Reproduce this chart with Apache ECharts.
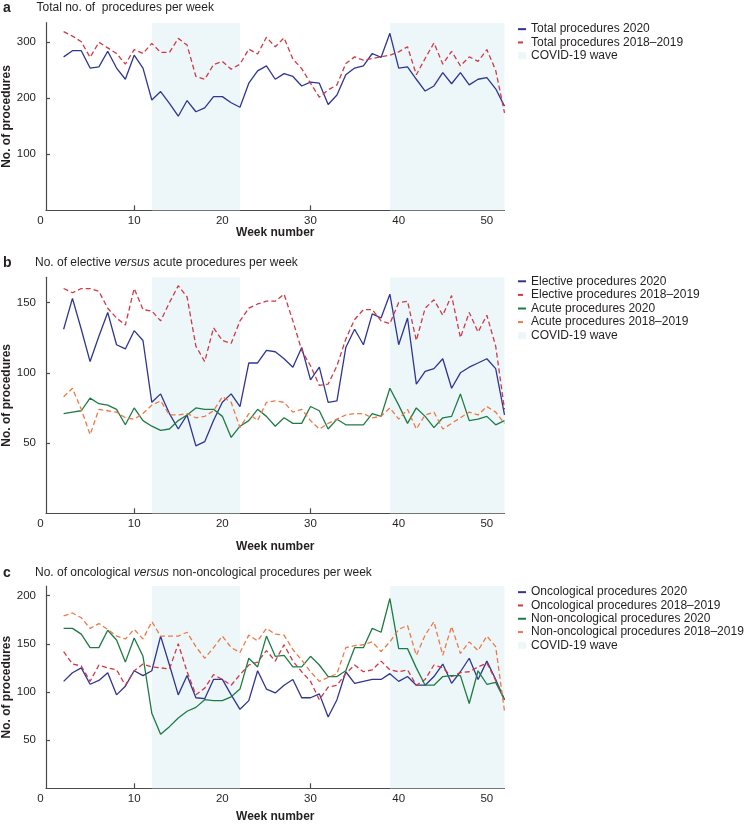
<!DOCTYPE html>
<html>
<head>
<meta charset="utf-8">
<script src="https://cdn.jsdelivr.net/npm/echarts@6/dist/echarts.min.js"></script>
<style>html,body{margin:0;padding:0;background:#fff}#c{width:745px;height:825px}</style>
</head>
<body>
<div id="c"></div>
<script>
// ---------- data ----------
const weeks = [2,3,4,5,6,7,8,9,10,11,12,13,14,15,16,17,18,19,20,21,22,23,24,25,26,27,28,29,30,31,32,33,34,35,36,37,38,39,40,41,42,43,44,45,46,47,48,49,50,51,52];

const total2020 = [274,285,285,254,256,284,254,234,277,254, 197,212,191,168,196,176,183,203,203,192, 184,227,249,258,234,244,239,222,229,227, 189,206,242,254,258,280,273,316,254,256, 234,213,222,246,226,246,224,234,237,217, 186];
const total1819 = [319,311,301,273,300,290,280,261,287,280, 298,282,282,307,295,239,234,260,266,252, 261,288,279,309,292,308,270,253,227,202, 215,224,262,274,268,271,274,277,283,292, 242,271,299,261,284,258,274,266,287,250, 174];

const elective2020 = [131,153,131,108,126,143,120,117,130,123, 79,85,71,60,70,48,51,66,79,85, 76,107,107,116,115,110,104,118,95,104, 79,80,118,131,120,142,139,156,120,139, 92,101,103,110,89,100,104,107,110,103, 70];
const elective1819 = [160,157,160,160,158,146,139,134,160,145, 144,137,150,162,154,119,108,132,123,121, 137,146,149,151,151,156,137,116,105,91, 92,105,124,138,145,145,137,135,150,151, 123,146,152,141,155,125,143,129,141,119, 74];
const acute2020 = [71,72,73,82,78,77,74,63,75,66, 62,59,60,66,70,75,74,74,69,54, 62,66,74,69,62,68,64,64,76,73, 60,67,63,63,63,71,69,89,77,64, 75,69,61,68,69,85,66,67,69,63, 66];
const acute1819 = [83,89,74,56,74,73,72,68,67,71, 77,80,70,70,71,68,69,73,83,79, 61,71,66,79,80,79,72,74,66,60, 64,67,70,71,71,68,69,75,67,74, 60,70,72,60,64,68,72,70,76,72, 64];

const onc2020 = [111,120,125,108,112,120,97,106,122,117, 122,158,128,97,117,94,93,113,113,97, 82,91,122,103,99,107,113,94,94,98, 74,92,121,109,111,113,113,119,111,116, 107,107,116,129,109,121,135,113,132,113, 92];
const onc1819 = [142,129,127,111,128,125,123,107,122,129, 126,125,124,150,121,97,104,118,113,107, 118,128,131,143,132,149,132,121,111,92, 105,107,119,128,121,123,132,123,121,123, 107,113,128,125,116,120,121,126,130,112, 92];
const nonOnc2020 = [166,166,160,146,146,164,154,131,156,137, 78,56,64,73,80,84,92,91,91,95, 103,135,126,158,137,138,126,126,137,128, 116,116,122,146,146,166,162,197,145,145, 125,107,107,116,117,117,88,122,108,110, 92];
const nonOnc1819 = [179,182,177,166,171,165,158,155,165,155, 173,158,158,158,162,147,135,146,158,146, 141,159,153,166,160,159,144,133,121,111, 115,119,146,148,149,152,142,152,165,169, 138,159,173,138,168,140,152,143,158,147, 80];

const covidWaves = [[12, 22], [39, 52]];

const xTickLabels = [0, 10, 20, 30, 40, 50];
const xTicks = [10, 20, 30, 40, 50];
const yTicksA = [100, 200, 300];
const yTicksB = [50, 100, 150];
const yTicksC = [50, 100, 150, 200];

const panelTitles = [
  'Total no. of  procedures per week',
  'No. of elective {i|versus} acute procedures per week',
  'No. of oncological {i|versus} non-oncological procedures per week'
];
const panelLetters = ['a', 'b', 'c'];

// ---------- styling ----------
const FONT = "'Liberation Sans', Arial, Helvetica, sans-serif";
const TXT = '#231f20';
const C_BLUE = '#2f3590';
const C_RED = '#d03a45';
const C_GREEN = '#1e7b45';
const C_ORANGE = '#ec7a48';
const C_WAVE = '#edf7f9';
const AX = '#4a4a4a';

function pairs(vals) { return weeks.map((w, i) => [w, vals[i]]); }

function lineSeries(name, vals, color, dashed, idx) {
  return {
    type: 'line', name, xAxisIndex: idx, yAxisIndex: idx,
    data: pairs(vals), symbol: 'none', z: 5,
    lineStyle: { color, width: 1.3, type: dashed ? [5, 3] : 'solid' },
    itemStyle: { color }
  };
}
function waveSeries(idx) {
  return {
    type: 'line', name: 'COVID-19 wave', xAxisIndex: idx, yAxisIndex: idx, data: [],
    symbol: 'none', silent: true, z: 1,
    itemStyle: { color: C_WAVE },
    markArea: {
      silent: true,
      itemStyle: { color: C_WAVE },
      data: covidWaves.map(w => [{ xAxis: w[0] }, { xAxis: w[1] }])
    }
  };
}

const grids = [
  { left: 46, width: 458.5, top: 22.7, height: 187.6, outerBoundsMode: 'none', containLabel: false },
  { left: 46, width: 458.5, top: 277.3, height: 236, outerBoundsMode: 'none', containLabel: false },
  { left: 46, width: 458.5, top: 586, height: 202.3, outerBoundsMode: 'none', containLabel: false }
];
const yMax = [335, 168, 210];
const yTicks = [yTicksA, yTicksB, yTicksC];
const xNameGap = [16, 27, 22];

const xAxes = grids.map((g, i) => ({
  type: 'value', gridIndex: i, min: 0, max: 52,
  axisLine: { show: true, onZero: false, lineStyle: { color: AX, width: 1.2 } },
  axisTick: { show: true, inside: true, length: 5, customValues: xTicks, lineStyle: { color: AX, width: 1.2 } },
  axisLabel: {
    customValues: xTickLabels, fontSize: 11.5, color: TXT, fontFamily: FONT, margin: 5,
    formatter: v => v === 0 ? '{s|0}' : String(v),
    rich: { s: { padding: [0, 11, 0, 0], fontSize: 11.5, color: TXT, fontFamily: FONT } }
  },
  splitLine: { show: false },
  name: 'Week number', nameLocation: 'middle', nameGap: xNameGap[i], nameMoveOverlap: false,
  nameTextStyle: { fontWeight: 'bold', fontSize: 12, color: TXT, fontFamily: FONT, verticalAlign: 'top' }
}));

const yAxes = grids.map((g, i) => ({
  type: 'value', gridIndex: i, min: 0, max: yMax[i],
  axisLine: { show: true, lineStyle: { color: AX, width: 1.2 } },
  axisTick: { show: true, inside: true, length: 4, customValues: yTicks[i], lineStyle: { color: AX, width: 1.2 } },
  axisLabel: { customValues: yTicks[i], fontSize: 11.5, color: TXT, fontFamily: FONT, margin: 10 },
  splitLine: { show: false },
  name: 'No. of procedures', nameLocation: 'middle', nameGap: 33, nameMoveOverlap: false,
  nameTextStyle: { fontWeight: 'bold', fontSize: 12, color: TXT, fontFamily: FONT }
}));

const titleY = [8.5, 263.3, 573.3];
const titles = [];
titleY.forEach((y, i) => {
  titles.push({ text: panelLetters[i], left: 3, top: y - 7, padding: 0,
    textStyle: { fontWeight: 'bold', fontSize: 14, color: TXT, fontFamily: FONT } });
  titles.push({ text: panelTitles[i], left: i === 0 ? 36.5 : 35, top: y - 7, padding: 0,
    textStyle: { fontWeight: 'normal', fontSize: 12, color: TXT, fontFamily: FONT,
      rich: { i: { fontStyle: 'italic', fontSize: 12, color: TXT, fontFamily: FONT } } } });
});

const legendNames = [
  ['Total procedures 2020', 'Total procedures 2018\u20132019'],
  ['Elective procedures 2020', 'Elective procedures 2018\u20132019', 'Acute procedures 2020', 'Acute procedures 2018\u20132019'],
  ['Oncological procedures 2020', 'Oncological procedures 2018\u20132019', 'Non-oncological procedures 2020', 'Non-oncological procedures 2018\u20132019']
];
const legendTop = [22.5, 274.5, 585.5];
const legendLH = [13.3, 13.6, 13.3];
const legends = legendNames.map((names, i) => ({
  orient: 'vertical', left: 517, top: legendTop[i], padding: 0, itemGap: 0,
  itemWidth: 8, itemHeight: 7, selectedMode: false,
  itemStyle: { opacity: 0 },
  textStyle: { fontSize: 12, color: TXT, fontFamily: FONT, lineHeight: legendLH[i] },
  data: names.map(n => ({ name: n })).concat([{ name: 'COVID-19 wave', icon: 'rect', itemStyle: { color: C_WAVE, opacity: 1 } }])
}));

const series = [
  waveSeries(0), waveSeries(1), waveSeries(2),
  lineSeries(legendNames[0][0], total2020, C_BLUE, false, 0),
  lineSeries(legendNames[0][1], total1819, C_RED, true, 0),
  lineSeries(legendNames[1][0], elective2020, C_BLUE, false, 1),
  lineSeries(legendNames[1][1], elective1819, C_RED, true, 1),
  lineSeries(legendNames[1][2], acute2020, C_GREEN, false, 1),
  lineSeries(legendNames[1][3], acute1819, C_ORANGE, true, 1),
  lineSeries(legendNames[2][0], onc2020, C_BLUE, false, 2),
  lineSeries(legendNames[2][1], onc1819, C_RED, true, 2),
  lineSeries(legendNames[2][2], nonOnc2020, C_GREEN, false, 2),
  lineSeries(legendNames[2][3], nonOnc1819, C_ORANGE, true, 2)
];

const chart = echarts.init(document.getElementById('c'), null, { renderer: 'canvas' });
chart.setOption({
  animation: false,
  backgroundColor: '#fff',
  textStyle: { fontFamily: FONT },
  title: titles,
  legend: legends,
  grid: grids,
  xAxis: xAxes,
  yAxis: yAxes,
  series
});
</script>
</body>
</html>
